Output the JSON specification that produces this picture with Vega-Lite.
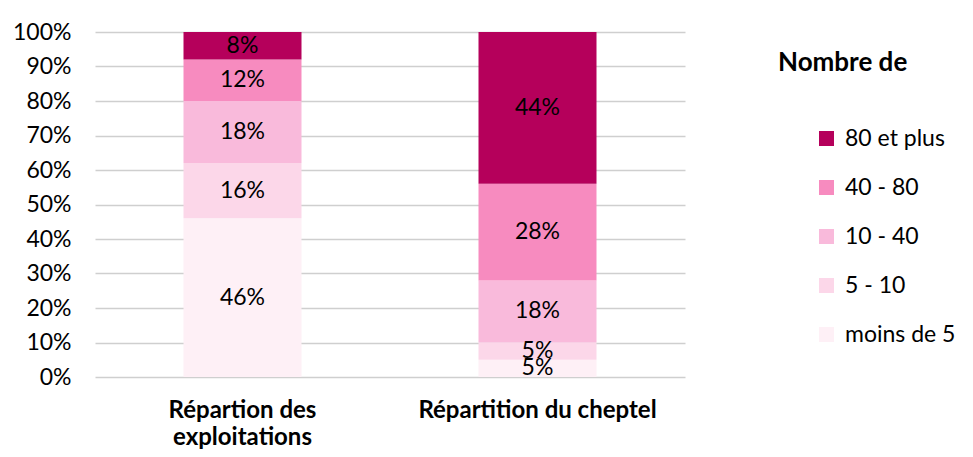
{
  "$schema": "https://vega.github.io/schema/vega-lite/v6.json",
  "autosize": {"type": "none"},
  "width": 590,
  "height": 345,
  "padding": {"left": 95, "top": 32, "right": 288, "bottom": 80},
  "background": "#ffffff",
  "config": {
    "font": "Lato",
    "view": {"stroke": null},
    "axis": {"labelColor": "#000000", "labelFont": "Lato"}
  },
  "data": {
    "values": [
      {"serie": "Répartion des exploitations", "classe": "moins de 5", "ordre": 1, "part": 0.46},
      {"serie": "Répartion des exploitations", "classe": "5 - 10", "ordre": 2, "part": 0.16},
      {"serie": "Répartion des exploitations", "classe": "10 - 40", "ordre": 3, "part": 0.18},
      {"serie": "Répartion des exploitations", "classe": "40 - 80", "ordre": 4, "part": 0.12},
      {"serie": "Répartion des exploitations", "classe": "80 et plus", "ordre": 5, "part": 0.08},
      {"serie": "Répartition du cheptel", "classe": "moins de 5", "ordre": 1, "part": 0.05},
      {"serie": "Répartition du cheptel", "classe": "5 - 10", "ordre": 2, "part": 0.05},
      {"serie": "Répartition du cheptel", "classe": "10 - 40", "ordre": 3, "part": 0.18},
      {"serie": "Répartition du cheptel", "classe": "40 - 80", "ordre": 4, "part": 0.28},
      {"serie": "Répartition du cheptel", "classe": "80 et plus", "ordre": 5, "part": 0.44}
    ]
  },
  "transform": [
    {"stack": "part", "groupby": ["serie"], "sort": [{"field": "ordre", "order": "ascending"}], "as": ["y0", "y1"]},
    {"calculate": "(datum.y0 + datum.y1) / 2", "as": "mid"}
  ],
  "encoding": {
    "x": {
      "field": "serie",
      "type": "nominal",
      "sort": ["Répartion des exploitations", "Répartition du cheptel"],
      "scale": {"paddingInner": 0.6, "paddingOuter": 0.3},
      "axis": {
        "title": null,
        "labelAngle": 0,
        "domain": false,
        "ticks": false,
        "labelFontSize": 24,
        "labelFontWeight": "bold",
        "labelPadding": 21,
        "labelLineHeight": 27,
        "labelBaseline": "top",
        "labelLimit": 0,
        "labelOverlap": false,
        "labelExpr": "datum.value == 'Répartion des exploitations' ? ['Répartion des', 'exploitations'] : datum.value"
      }
    }
  },
  "layer": [
    {
      "mark": {"type": "bar", "strokeWidth": 0},
      "encoding": {
        "y": {
          "field": "y0",
          "type": "quantitative",
          "scale": {"domain": [0, 1], "nice": false},
          "axis": {
            "title": null,
            "values": [0, 0.1, 0.2, 0.3, 0.4, 0.5, 0.6, 0.7, 0.8, 0.9, 1],
            "format": ".0%",
            "domain": false,
            "ticks": false,
            "labelFontSize": 23,
            "labelPadding": 24,
            "labelOverlap": false,
            "labelBound": false,
            "gridColor": "#cfcfcf",
            "gridWidth": 1.5
          }
        },
        "y2": {"field": "y1"},
        "color": {
          "field": "classe",
          "type": "nominal",
          "scale": {
            "domain": ["80 et plus", "40 - 80", "10 - 40", "5 - 10", "moins de 5"],
            "range": ["#b5005b", "#f78bbf", "#f9badb", "#fcd7e9", "#fef0f6"]
          },
          "legend": {
            "title": "Nombre de",
            "orient": "none",
            "legendX": 683,
            "legendY": 18,
            "titleFontSize": 26,
            "titleFontWeight": "bold",
            "titleColor": "#000000",
            "titlePadding": 51,
            "titleAnchor": "start",
            "symbolType": "square",
            "symbolSize": 225,
            "symbolStrokeWidth": 0,
            "symbolOffset": 37,
            "labelFontSize": 23,
            "labelColor": "#000000",
            "labelOffset": 7,
            "rowPadding": 25
          }
        }
      }
    },
    {
      "mark": {"type": "text", "fontSize": 23, "color": "#000000", "baseline": "middle", "align": "center"},
      "encoding": {
        "y": {
          "field": "mid",
          "type": "quantitative",
          "axis": {
            "title": null,
            "values": [0, 0.1, 0.2, 0.3, 0.4, 0.5, 0.6, 0.7, 0.8, 0.9, 1],
            "format": ".0%",
            "domain": false,
            "ticks": false,
            "labelFontSize": 23,
            "labelPadding": 24,
            "labelOverlap": false,
            "labelBound": false,
            "gridColor": "#cfcfcf",
            "gridWidth": 1.5
          }
        },
        "text": {"field": "part", "type": "quantitative", "format": ".0%"}
      }
    }
  ]
}
